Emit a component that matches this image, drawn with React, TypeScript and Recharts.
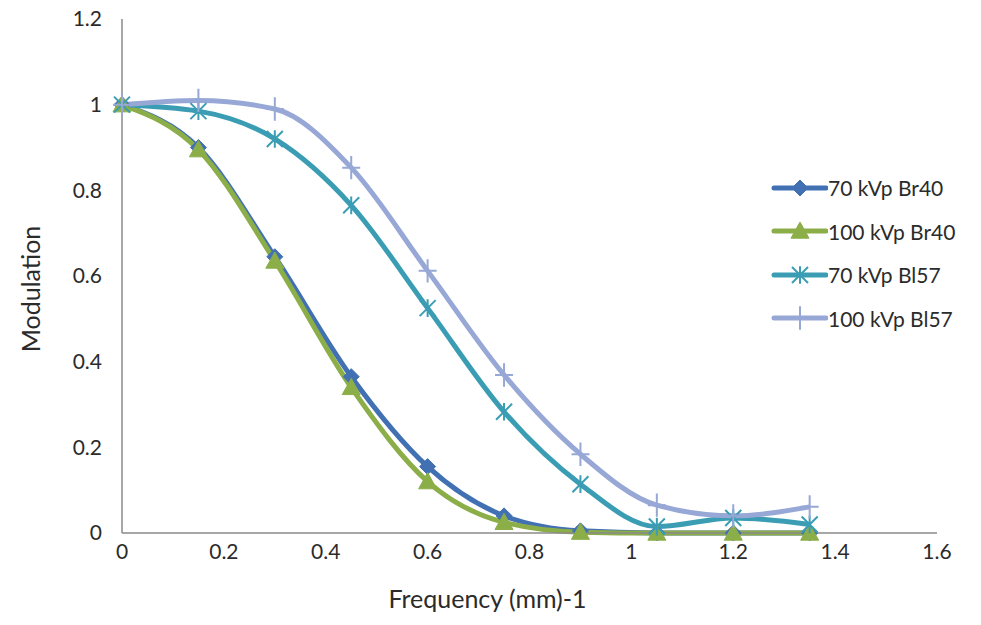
import { LineChart, Line, XAxis, YAxis, Legend } from "recharts";

const freq = [0, 0.15, 0.3, 0.45, 0.6, 0.75, 0.9, 1.05, 1.2, 1.35];
const br40kv70 = [1.0, 0.9, 0.645, 0.365, 0.155, 0.04, 0.005, 0, 0, 0];
const br40kv100 = [1.0, 0.895, 0.635, 0.34, 0.12, 0.025, 0.002, 0, 0, 0];
const bl57kv70 = [1.0, 0.985, 0.92, 0.765, 0.525, 0.283, 0.114, 0.015, 0.035, 0.02];
const bl57kv100 = [1.0, 1.01, 0.99, 0.853, 0.612, 0.369, 0.184, 0.065, 0.04, 0.061];

const xTicks = [0, 0.2, 0.4, 0.6, 0.8, 1, 1.2, 1.4, 1.6];
const yTicks = [0, 0.2, 0.4, 0.6, 0.8, 1, 1.2];

const rows = freq.map((x, i) => ({
  x,
  a: br40kv70[i],
  b: br40kv100[i],
  c: bl57kv70[i],
  d: bl57kv100[i],
}));

type Marker = "diamond" | "triangle" | "star" | "plus";

const series: { key: string; name: string; color: string; marker: Marker }[] = [
  { key: "a", name: "70 kVp Br40", color: "#4271b3", marker: "diamond" },
  { key: "b", name: "100 kVp Br40", color: "#8cae48", marker: "triangle" },
  { key: "c", name: "70 kVp Bl57", color: "#3a9db4", marker: "star" },
  { key: "d", name: "100 kVp Bl57", color: "#97a8d6", marker: "plus" },
];

const FONT = "Lato, 'Open Sans', sans-serif";
const INK = "#2b2b2b";

function markerShape(marker: Marker, cx: number, cy: number, color: string) {
  if (marker === "diamond") {
    const r = 8;
    return (
      <path
        d={`M${cx},${cy - r}L${cx + r},${cy}L${cx},${cy + r}L${cx - r},${cy}Z`}
        fill={color}
        stroke={color}
      />
    );
  }
  if (marker === "triangle") {
    const r = 9;
    return (
      <path
        d={`M${cx},${cy - r}L${cx + r},${cy + r * 0.8}L${cx - r},${cy + r * 0.8}Z`}
        fill={color}
        stroke={color}
      />
    );
  }
  if (marker === "star") {
    const r = 8;
    return (
      <path
        d={`M${cx - r},${cy - r}L${cx + r},${cy + r}M${cx + r},${cy - r}L${cx - r},${cy + r}M${cx},${cy - r * 1.1}L${cx},${cy + r * 1.1}`}
        stroke={color}
        strokeWidth={2}
        fill="none"
      />
    );
  }
  const r = 9;
  return (
    <path
      d={`M${cx - r},${cy}L${cx + r},${cy}M${cx},${cy - r * 1.3}L${cx},${cy + r * 1.3}`}
      stroke={color}
      strokeWidth={2}
      fill="none"
    />
  );
}

function LegendBox() {
  return (
    <div style={{ fontFamily: FONT, fontSize: 21, color: INK }}>
      {series.map((s) => (
        <div key={s.key} style={{ display: "flex", alignItems: "center", height: 43.5 }}>
          <svg width={58} height={24}>
            <line x1={4} x2={56} y1={12} y2={12} stroke={s.color} strokeWidth={5} strokeLinecap="round" />
            {markerShape(s.marker, 30, 12, s.color)}
          </svg>
          <span>{s.name}</span>
        </div>
      ))}
    </div>
  );
}

export default function App() {
  return (
    <div style={{ position: "absolute", left: 0, top: 0, background: "#fff" }}>
      <LineChart width={981} height={625} data={rows} margin={{ top: 19, right: 44, bottom: 8, left: 62 }}>
        <XAxis
          type="number"
          dataKey="x"
          domain={[0, 1.6]}
          ticks={xTicks}
          tickLine={false}
          axisLine={{ stroke: "#8a8a8a", strokeWidth: 1.5 }}
          tick={{ fill: INK, fontSize: 21, fontFamily: FONT }}
          tickMargin={5}
          height={84}
          label={{
            value: "Frequency (mm)-1",
            position: "insideBottom",
            dx: -42,
            dy: -4,
            style: { fill: INK, fontSize: 25, fontFamily: FONT },
          }}
        />
        <YAxis
          type="number"
          domain={[0, 1.2]}
          ticks={yTicks}
          tickLine={false}
          axisLine={{ stroke: "#8a8a8a", strokeWidth: 1.5 }}
          tick={{ fill: INK, fontSize: 21, fontFamily: FONT }}
          tickMargin={14}
          width={60}
          label={{
            value: "Modulation",
            angle: -90,
            position: "insideLeft",
            dx: -36,
            dy: 13,
            style: { fill: INK, fontSize: 25, fontFamily: FONT, textAnchor: "middle" },
          }}
        />
        <Legend
          layout="horizontal"
          verticalAlign="middle"
          align="center"
          content={() => <LegendBox />}
          wrapperStyle={{ position: "absolute", left: 770, top: 166, width: 220 }}
        />
        {series.map((s) => (
          <Line
            key={s.key}
            dataKey={s.key}
            name={s.name}
            type="monotone"
            stroke={s.color}
            strokeWidth={5}
            isAnimationActive={false}
            dot={(p: any) => <g key={`${s.key}-${p.index}`}>{markerShape(s.marker, p.cx, p.cy, s.color)}</g>}
            activeDot={false}
          />
        ))}
      </LineChart>
    </div>
  );
}
